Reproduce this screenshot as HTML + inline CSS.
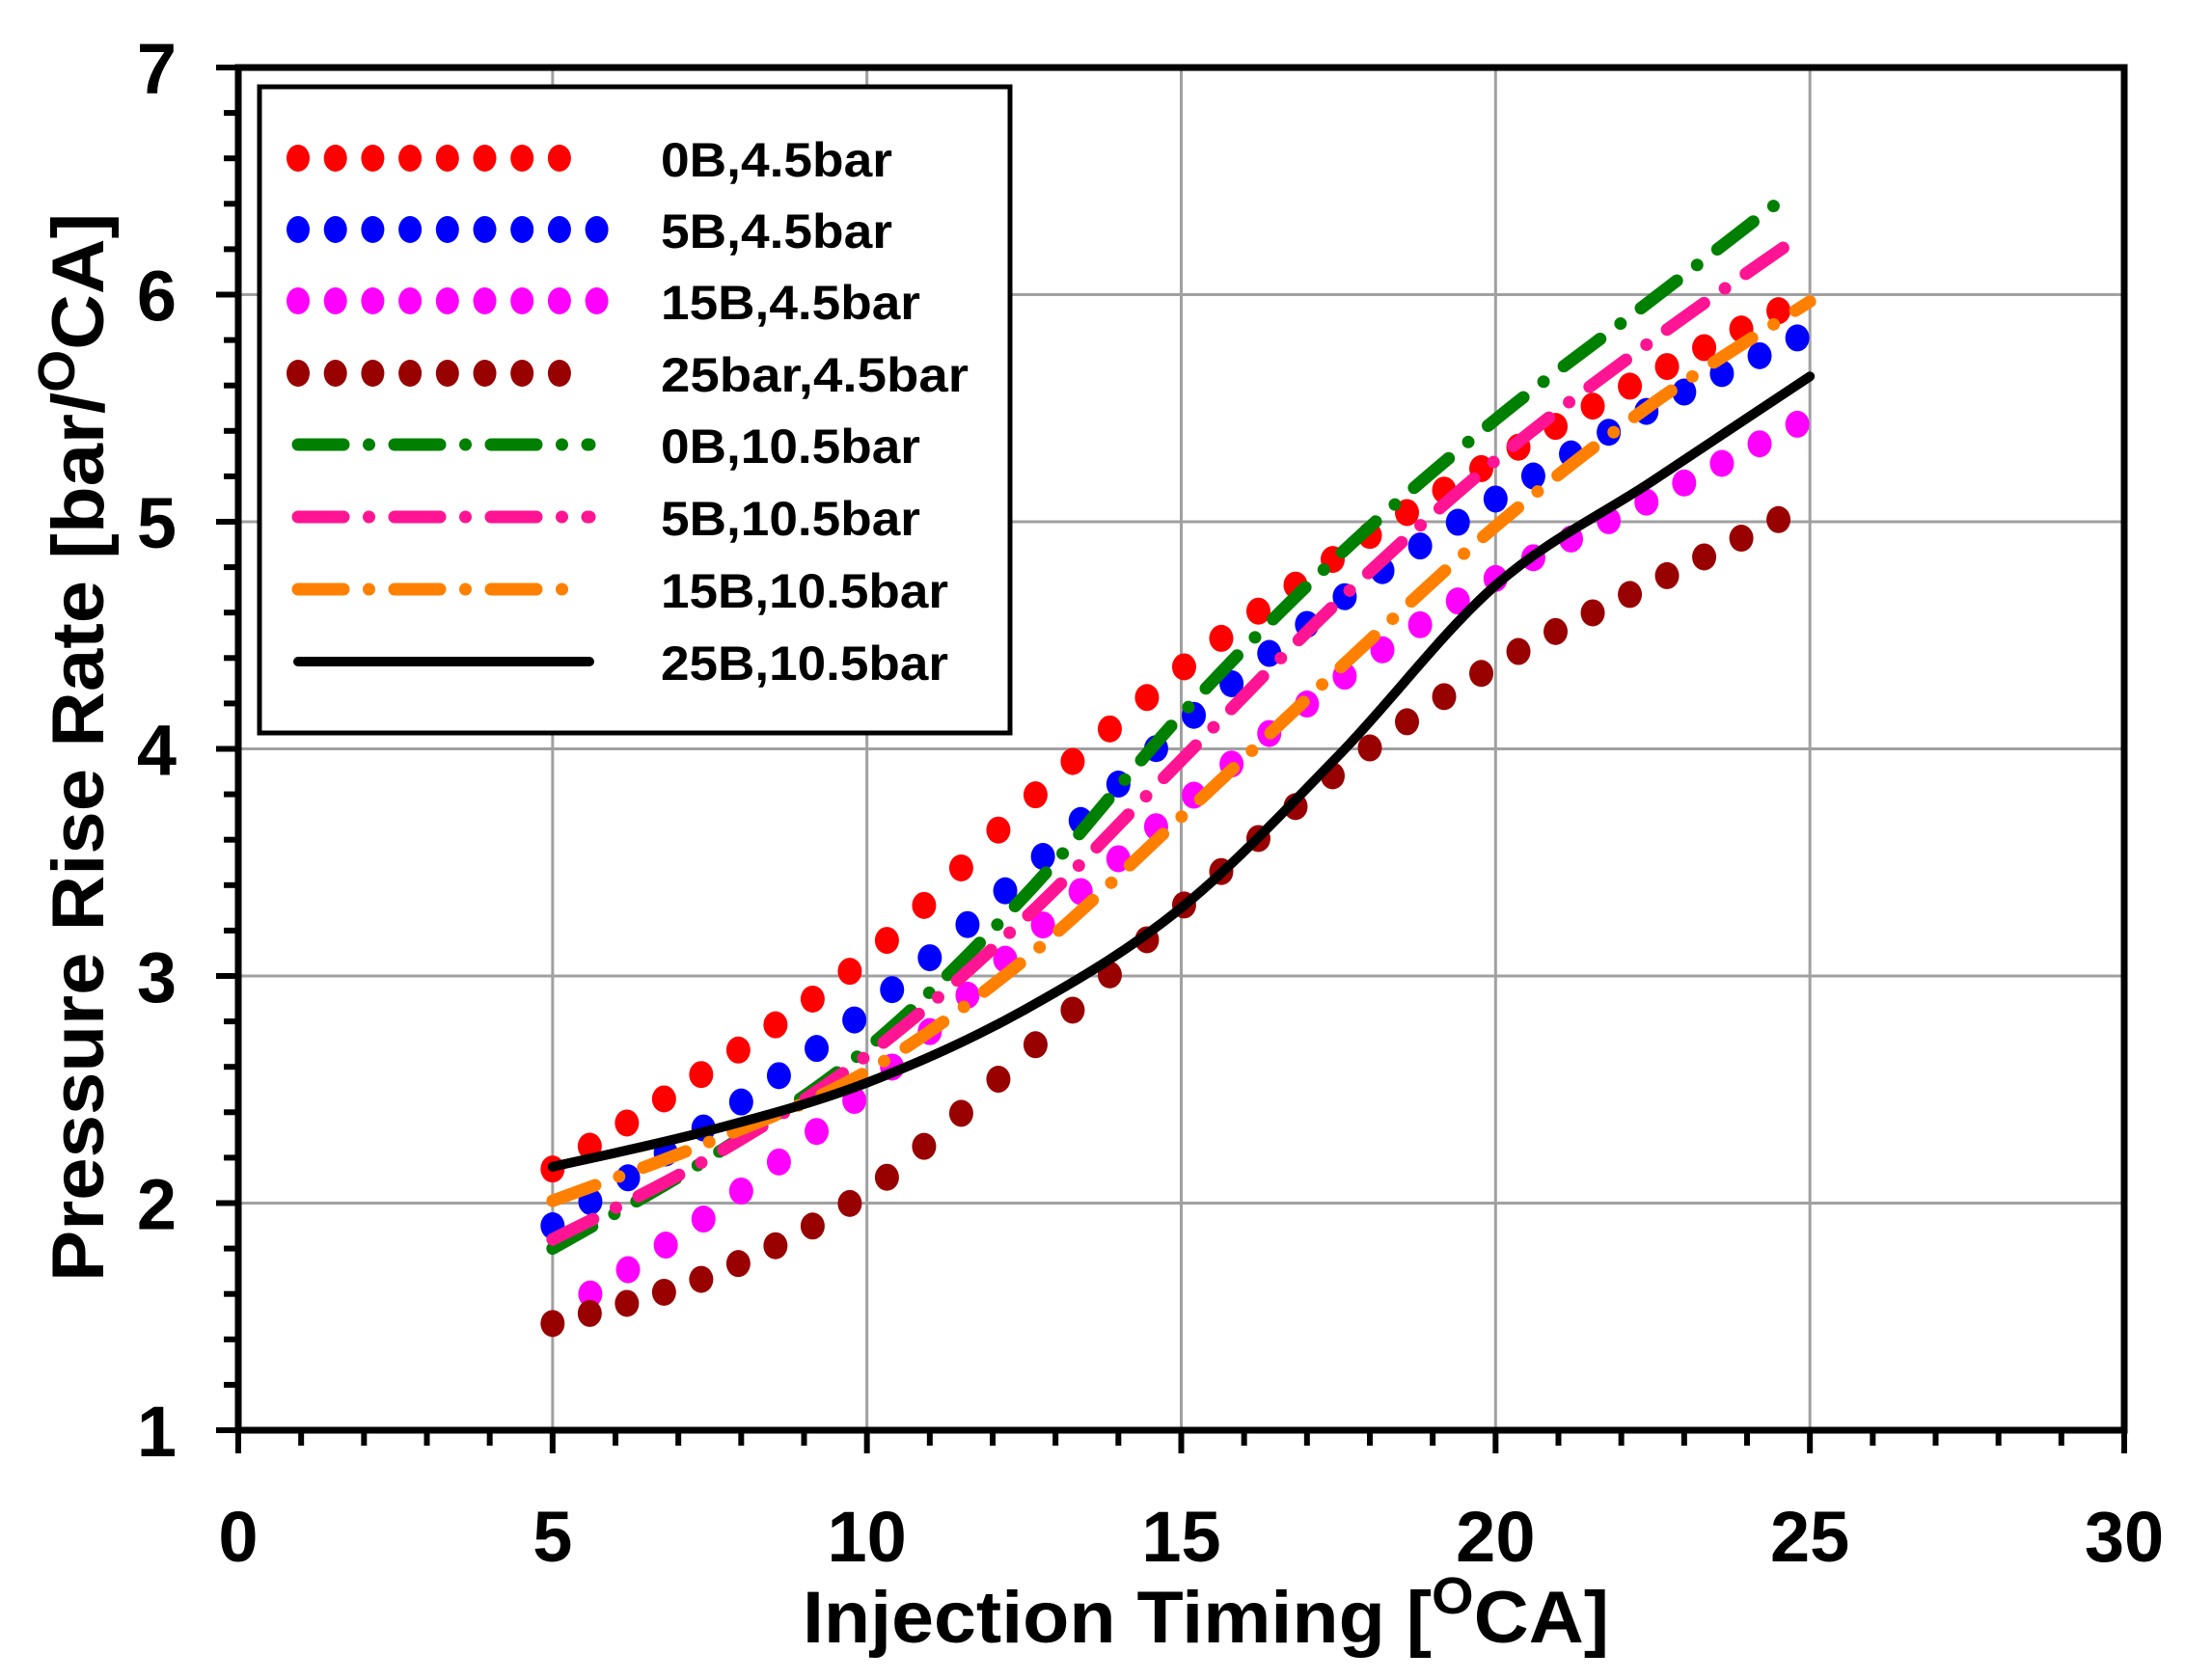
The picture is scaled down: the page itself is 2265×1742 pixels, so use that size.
<!DOCTYPE html>
<html><head><meta charset="utf-8">
<style>html,body{margin:0;padding:0;background:#fff;}svg{display:block;}</style>
</head><body>
<svg id="s" width="2265" height="1742" viewBox="0 0 2265 1742" xmlns="http://www.w3.org/2000/svg" font-family="'Liberation Sans', Arial, sans-serif" font-weight="bold">
<rect width="2265" height="1742" fill="#fff"/>
<g id="grid" stroke="#a0a0a0" stroke-width="3"></g>
<g id="series"></g>
<g id="axes"></g>
<g id="legend"></g>
<g id="labels" fill="#000"></g>
<text x="1250" y="1703" font-size="76" text-anchor="middle" textLength="836" lengthAdjust="spacingAndGlyphs">Injection Timing [<tspan dy="-30" font-size="54">O</tspan><tspan dy="30">CA]</tspan></text>
<text transform="translate(107,775) rotate(-90)" font-size="76" text-anchor="middle" textLength="1108" lengthAdjust="spacingAndGlyphs">Pressure Rise Rate [bar/<tspan dy="-30" font-size="54">O</tspan><tspan dy="30">CA]</tspan></text>
</svg>
<script>
const L=247,R=2202,T=70,B=1483;
const X=v=>L+(R-L)*v/30, Y=v=>B-(B-T)*(v-1)/6;
const NS="http://www.w3.org/2000/svg";
function el(p,tag,a,txt){const e=document.createElementNS(NS,tag);for(const k in a)e.setAttribute(k,a[k]);if(txt!=null)e.textContent=txt;document.getElementById(p).appendChild(e);return e;}
for(let v=5;v<30;v+=5)el('grid','line',{x1:X(v),x2:X(v),y1:T,y2:B});
for(let v=2;v<7;v++)el('grid','line',{x1:L,x2:R,y1:Y(v),y2:Y(v)});
function cr(pts){// returns segments in data space as bezier control points
 const P=pts;const segs=[];
 for(let i=0;i<P.length-1;i++){const p0=P[Math.max(0,i-1)],p1=P[i],p2=P[i+1],p3=P[Math.min(P.length-1,i+2)];
 segs.push([p1,[p1[0]+(p2[0]-p0[0])/6,p1[1]+(p2[1]-p0[1])/6],[p2[0]-(p3[0]-p1[0])/6,p2[1]-(p3[1]-p1[1])/6],p2]);}
 return segs;}
function pathOf(pts){const s=cr(pts);let d=`M${X(s[0][0][0])},${Y(s[0][0][1])}`;
 s.forEach(g=>{d+=` C${X(g[1][0])},${Y(g[1][1])} ${X(g[2][0])},${Y(g[2][1])} ${X(g[3][0])},${Y(g[3][1])}`;});return d;}
function yAt(pts,x){// sample bezier to find y at x
 const s=cr(pts);let best=null,bd=1e9;
 s.forEach(g=>{for(let t=0;t<=1;t+=0.005){const u=1-t;
  const px=u*u*u*g[0][0]+3*u*u*t*g[1][0]+3*u*t*t*g[2][0]+t*t*t*g[3][0];
  const py=u*u*u*g[0][1]+3*u*u*t*g[1][1]+3*u*t*t*g[2][1]+t*t*t*g[3][1];
  const d=Math.abs(px-x);if(d<bd){bd=d;best=py;}}});return best;}
const dot={w:26,da:"dot"}, dd={w:13,da:"47 26.5 0 26.5"};
const S=[
 ["#ff0000",dot,[[5,2.15],[7,2.5],[10,3.08],[12.5,3.75],[15,4.35],[17.5,4.85],[20,5.27],[22.5,5.65],[24.5,5.93]],33],
 ["#0000ff",dot,[[5,1.9],[7.5,2.35],[10,2.85],[12.5,3.45],[15,4.1],[17.5,4.65],[20,5.1],[22.5,5.5],[24.8,5.81]],33],
 ["#ff00ff",dot,[[5.6,1.6],[7.5,1.95],[10,2.5],[12.5,3.15],[15,3.75],[17.5,4.3],[20,4.75],[22.5,5.1],[24.8,5.43]],32],
 ["#990000",dot,[[5,1.47],[7.5,1.68],[10,2.05],[12.5,2.65],[15,3.3],[17.5,3.9],[20,4.37],[22.5,4.73],[24.5,5.01]],33],
 ["#008000",dd,[[5,1.8],[7.5,2.2],[10,2.68],[12.5,3.35],[15,4.15],[17.5,4.85],[20,5.45],[22.5,5.98],[24.7,6.45]]],
 ["#ff1493",dd,[[5,1.84],[7.5,2.2],[10,2.65],[12.5,3.25],[15,3.95],[17.5,4.65],[20,5.27],[22.5,5.8],[24.75,6.24]]],
 ["#ff8000",dd,[[5,2.01],[7.5,2.27],[10,2.58],[12.5,3.07],[15,3.7],[17.5,4.35],[20,4.98],[22.5,5.52],[25,5.97]]],
 ["#000000",{w:10,da:"none"},[[5,2.16],[7.5,2.32],[10,2.53],[12.5,2.85],[15,3.3],[17.5,3.97],[20,4.72],[22.5,5.18],[25,5.64]]]
];
S.forEach(s=>{
 if(s[1]===dot){const p=s[2],x0=p[0][0],x1=p[p.length-1][0],n=s[3];
  for(let k=0;k<=n;k++){const x=x0+(x1-x0)*k/n;el('series','ellipse',{cx:X(x),cy:Y(yAt(p,x)),rx:12.5,ry:14,fill:s[0]});}}
 else el('series','path',{d:pathOf(s[2]),fill:"none",stroke:s[0],"stroke-width":s[1].w,"stroke-dasharray":s[1].da,"stroke-linecap":"round","stroke-linejoin":"round"});
});
el('axes','rect',{x:L,y:T,width:R-L,height:B-T,fill:"none",stroke:"#000","stroke-width":7});
for(let i=0;i<=30;i++){const maj=i%5==0;el('axes','line',{x1:X(i),x2:X(i),y1:B,y2:B+(maj?24:16),stroke:"#000","stroke-width":6});}
for(let i=0;i<=30;i++){const v=1+i*0.2,maj=i%5==0;el('axes','line',{x1:L,x2:L-(maj?23:15),y1:Y(v),y2:Y(v),stroke:"#000","stroke-width":6});}
for(let v=0;v<=30;v+=5)el('labels','text',{x:X(v),y:1619,"font-size":74,"text-anchor":"middle"},String(v));
for(let v=1;v<=7;v++)el('labels','text',{x:183,y:Y(v)+27,"font-size":74,"text-anchor":"end"},String(v));
el('legend','rect',{x:269,y:90,width:778,height:670,fill:"#fff",stroke:"#000","stroke-width":5});
const rows=[164,238,312,387,461,536,611,686];
const names=["0B,4.5bar","5B,4.5bar","15B,4.5bar","25bar,4.5bar","0B,10.5bar","5B,10.5bar","15B,10.5bar","25B,10.5bar"];
const widths=[240,240,269,319,269,269,298,298];
const ends=[578,605,605,578,611,611,585,611];
S.forEach((s,i)=>{const y=rows[i];
 if(s[1]===dot){const n=Math.round((ends[i]-309)/38.7);for(let k=0;k<=n;k++)el('legend','ellipse',{cx:309+k*38.7,cy:y,rx:12,ry:14,fill:s[0]});}
 else el('legend','line',{x1:309,x2:ends[i],y1:y,y2:y,stroke:s[0],"stroke-width":s[1].w,"stroke-dasharray":s[1].da,"stroke-linecap":"round"});
 el('legend','text',{x:685,y:y+19,"font-size":50,textLength:widths[i],lengthAdjust:"spacingAndGlyphs"},names[i]);
});
</script>
</body></html>
